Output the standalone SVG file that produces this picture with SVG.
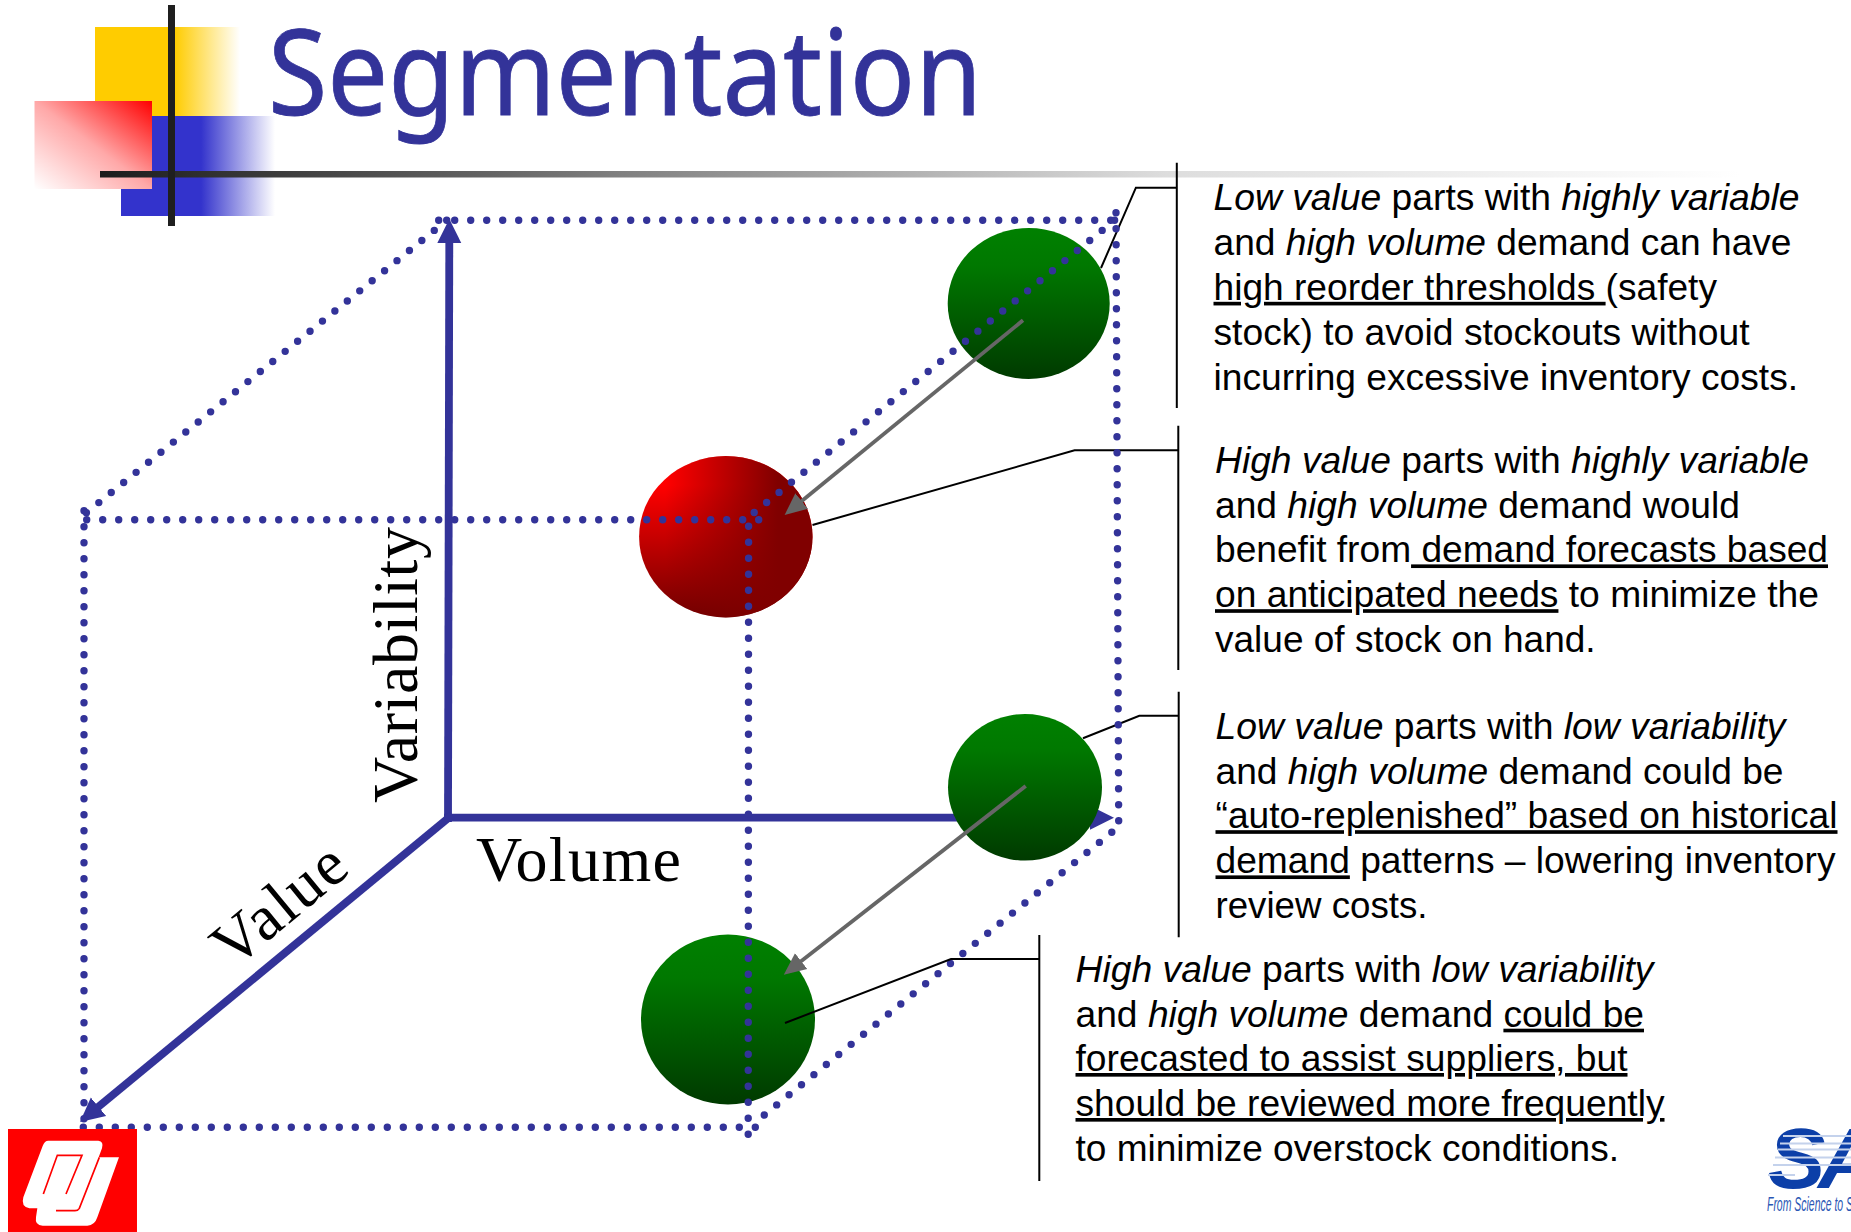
<svg xmlns="http://www.w3.org/2000/svg" width="1851" height="1232" viewBox="0 0 1851 1232">
<style>
.body{font-family:"Liberation Sans",Arial,sans-serif;font-size:36.5px;fill:#000}
.body tspan.i{font-style:italic}
.body tspan.u{text-decoration:underline;text-decoration-thickness:3px;text-underline-offset:4.5px;text-decoration-skip-ink:none}
.axis-label{font-family:"Liberation Serif","Times New Roman",serif;font-size:64px;fill:#000}
.dot{fill:none;stroke:#333399;stroke-width:7.4;stroke-linecap:round;stroke-dasharray:0 16}
.axis{fill:none;stroke:#333399;stroke-width:7.8;marker-end:url(#axisHead)}
.grey{fill:none;stroke:#666;stroke-width:3.8;marker-end:url(#greyHead)}
.lead{fill:none;stroke:#000;stroke-width:2}
</style>
<defs>
<marker id="axisHead" markerUnits="userSpaceOnUse" markerWidth="26" markerHeight="26" refX="4" refY="13" orient="auto"><path d="M0,1 L24,13 L0,25 Z" fill="#333399"/></marker>
<marker id="greyHead" markerUnits="userSpaceOnUse" markerWidth="24" markerHeight="22" refX="5" refY="11" orient="auto"><path d="M0,1 L22,11 L0,21 Z" fill="#666"/></marker>
<linearGradient id="ylw" gradientUnits="userSpaceOnUse" x1="95" y1="0" x2="240" y2="0"><stop offset="0" stop-color="#fc0"/><stop offset=".55" stop-color="#fc0"/><stop offset="1" stop-color="#fff"/></linearGradient>
<linearGradient id="blu" gradientUnits="userSpaceOnUse" x1="121" y1="0" x2="275" y2="0"><stop offset="0" stop-color="#33c"/><stop offset=".52" stop-color="#33c"/><stop offset="1" stop-color="#fff"/></linearGradient>
<linearGradient id="rd" x1="1" y1="0" x2="0" y2="1"><stop offset="0" stop-color="#f00"/><stop offset=".5" stop-color="#ffa8a8"/><stop offset="1" stop-color="#fff"/></linearGradient>
<linearGradient id="rule" gradientUnits="userSpaceOnUse" x1="100" y1="0" x2="1740" y2="0"><stop offset="0" stop-color="#1c1c1c"/><stop offset=".244" stop-color="#666"/><stop offset=".317" stop-color="#808080"/><stop offset=".65" stop-color="#ddd"/><stop offset="1" stop-color="#fff"/></linearGradient>
<linearGradient id="grn" x1="0" y1="0" x2="0" y2="1"><stop offset="0" stop-color="#008000"/><stop offset=".25" stop-color="#007800"/><stop offset="1" stop-color="#003a00"/></linearGradient>
<linearGradient id="redV" x1="0" y1="0" x2="0" y2="1"><stop offset="0" stop-color="#f00"/><stop offset=".18" stop-color="#f00"/><stop offset="1" stop-color="#700000"/></linearGradient>
<linearGradient id="redH" x1="0" y1="0" x2="1" y2="0"><stop offset=".15" stop-color="#800000" stop-opacity="0"/><stop offset=".8" stop-color="#800000"/></linearGradient>
</defs>
<rect width="1851" height="1232" fill="#fff"/>

<g id="title-art">
<rect x="95" y="27" width="145" height="89" fill="url(#ylw)"/>
<rect x="121" y="116" width="154" height="100" fill="url(#blu)"/>
<rect x="34.500" y="101" width="117.500" height="88" fill="url(#rd)"/>
<rect x="100" y="171" width="1640" height="6.500" fill="url(#rule)"/>
<rect x="168" y="5" width="7" height="221" fill="#1f1f1f"/>
</g>
<text id="title" x="268" y="115" font-family="'Noto Sans',sans-serif" font-size="118" fill="#333399" stroke="#333399" stroke-width=".8" textLength="714" lengthAdjust="spacingAndGlyphs">Segmentation</text>

<g id="axes">
<line class="axis" x1="448" y1="822" x2="449.300" y2="239"/>
<line class="axis" x1="444" y1="817.700" x2="1094" y2="817.700"/>
<line class="axis" x1="452" y1="815" x2="95.400" y2="1109.300"/>
</g>
<g id="leaders">
<path class="lead" d="M1176.800,162.700 V408 M1101,268 L1135.900,187.700 H1176.800"/>
<path class="lead" d="M1178.300,425.700 V670 M812.500,525 L1074.600,450.300 H1178.300"/>
<path class="lead" d="M1178.700,691.700 V937.300 M1083,738.300 L1139.300,715.700 H1178.700"/>
</g>

<g id="node-low-high-variability"><ellipse cx="1028.700" cy="303.500" rx="81" ry="75.500" fill="url(#grn)"/></g>
<g id="node-high-high-variability"><ellipse cx="725.800" cy="536.700" rx="86.700" ry="80.700" fill="url(#redV)"/><ellipse cx="725.800" cy="536.700" rx="86.700" ry="80.700" fill="url(#redH)"/></g>
<g id="node-low-low-variability"><ellipse cx="1025" cy="787.300" rx="77" ry="73.300" fill="url(#grn)"/></g>
<g id="node-high-low-variability"><ellipse cx="728" cy="1019.500" rx="87" ry="85" fill="url(#grn)"/></g>

<g id="cube">
<path class="dot" d="M438.700,220.300 H1112"/>
<path class="dot" d="M86.700,519.700 H760"/>
<path class="dot" d="M83.300,1127.300 H756"/>
<path class="dot" d="M84,1118.700 V510"/>
<path class="dot" d="M748.600,526.300 L748.200,1135"/>
<path class="dot" d="M1116,212.700 L1118.700,822"/>
<path class="dot" d="M1114.600,220.300 L754,512.700"/>
<path class="dot" d="M1111.800,832.300 L752,1125"/>
<path class="dot" d="M446.700,220.300 L86,513"/>
</g>

<g id="connectors">
<line class="grey" x1="1023" y1="320.300" x2="797.800" y2="504.200"/>
<line class="grey" x1="1025.700" y1="786" x2="797.200" y2="964.200"/>
<path class="lead" d="M1039.300,935 V1181 M785,1023 L951,959 H1039.300"/>
</g>

<g id="label-variability"><text class="axis-label" transform="translate(417 803) rotate(-90)" textLength="276">Variability</text></g>
<g id="label-volume"><text class="axis-label" x="476" y="881" textLength="205">Volume</text></g>
<g id="label-value"><text class="axis-label" transform="translate(233 970) rotate(-39.500)" textLength="154">Value</text></g>

<g id="text-1">
<text class="body" x="1213.500" y="210.200" textLength="586" lengthAdjust="spacingAndGlyphs"><tspan class="i">Low value</tspan> parts with <tspan class="i">highly variable</tspan></text>
<text class="body" x="1213.500" y="255" textLength="578" lengthAdjust="spacingAndGlyphs">and <tspan class="i">high volume</tspan> demand can have</text>
<text class="body" x="1213.500" y="299.800" textLength="503.500" lengthAdjust="spacingAndGlyphs"><tspan class="u">high reorder thresholds </tspan>(safety</text>
<text class="body" x="1213.500" y="344.700" textLength="536" lengthAdjust="spacingAndGlyphs">stock) to avoid stockouts without</text>
<text class="body" x="1213.500" y="389.500" textLength="584.600" lengthAdjust="spacingAndGlyphs">incurring excessive inventory costs.</text>
</g>
<g id="text-2">
<text class="body" x="1215" y="472.800" textLength="594" lengthAdjust="spacingAndGlyphs"><tspan class="i">High value</tspan> parts with <tspan class="i">highly variable</tspan></text>
<text class="body" x="1215" y="517.600" textLength="525" lengthAdjust="spacingAndGlyphs">and <tspan class="i">high volume</tspan> demand would</text>
<text class="body" x="1215" y="562.400" textLength="613" lengthAdjust="spacingAndGlyphs">benefit from<tspan class="u"> demand forecasts based</tspan></text>
<text class="body" x="1215" y="607.200" textLength="604" lengthAdjust="spacingAndGlyphs"><tspan class="u">on anticipated needs</tspan> to minimize the</text>
<text class="body" x="1215" y="652" textLength="380.600" lengthAdjust="spacingAndGlyphs">value of stock on hand.</text>
</g>
<g id="text-3">
<text class="body" x="1215.500" y="739.200" textLength="570" lengthAdjust="spacingAndGlyphs"><tspan class="i">Low value</tspan> parts with <tspan class="i">low variability</tspan></text>
<text class="body" x="1215.500" y="784" textLength="568" lengthAdjust="spacingAndGlyphs">and <tspan class="i">high volume</tspan> demand could be</text>
<text class="body" x="1215.500" y="828.200" textLength="622" lengthAdjust="spacingAndGlyphs"><tspan class="u">“auto-replenished” based on historical</tspan></text>
<text class="body" x="1215.500" y="873.400" textLength="620" lengthAdjust="spacingAndGlyphs"><tspan class="u">demand</tspan> patterns – lowering inventory</text>
<text class="body" x="1215.500" y="918" textLength="212" lengthAdjust="spacingAndGlyphs">review costs.</text>
</g>
<g id="text-4">
<text class="body" x="1075.500" y="981.700" textLength="578" lengthAdjust="spacingAndGlyphs"><tspan class="i">High value</tspan> parts with <tspan class="i">low variability</tspan></text>
<text class="body" x="1075.500" y="1026.700" textLength="568.500" lengthAdjust="spacingAndGlyphs">and <tspan class="i">high volume</tspan> demand <tspan class="u">could be</tspan></text>
<text class="body" x="1075.500" y="1071" textLength="552" lengthAdjust="spacingAndGlyphs"><tspan class="u">forecasted to assist suppliers, but</tspan></text>
<text class="body" x="1075.500" y="1116" textLength="589" lengthAdjust="spacingAndGlyphs"><tspan class="u">should be reviewed more frequently</tspan></text>
<text class="body" x="1075.500" y="1160.700" textLength="543.500" lengthAdjust="spacingAndGlyphs">to minimize overstock conditions.</text>
</g>

<g id="logo-ou" transform="translate(0 1080) scale(.3333)">
<rect x="24" y="147" width="387" height="309" fill="#f00"/>
<path d="M145,182 H295 Q312,184 306,205 L296,232 H357 L292,412 Q284,437 262,437 H128 Q104,437 108,412 L112,385 H88 Q62,380 70,352 L128,198 Q134,182 145,182 Z" fill="#fff"/>
<path d="M130,342 L172,226 H246 L198,342" fill="none" stroke="#f00" stroke-width="5"/>
<path d="M298,232 L238,385 Q234,392 225,392 H168" fill="none" stroke="#f00" stroke-width="5"/>
</g>
<g id="logo-sas">
<text x="1768" y="1188" font-family="'Liberation Sans',sans-serif" font-weight="700" font-style="italic" font-size="86" letter-spacing="-7" fill="#0c3fa8">SAS</text>
<path d="M1783,1136 H1851 M1780,1143.500 H1851 M1778,1149.500 H1851 M1775,1157.500 H1851 M1773,1165 H1851 M1768,1175 H1795" stroke="#c4d2ec" stroke-width="1.800"/>
<text x="1767" y="1211" font-family="'Liberation Sans',sans-serif" font-style="italic" font-size="20" fill="#2a56b4" textLength="86" lengthAdjust="spacingAndGlyphs">From Science to S</text>
</g>
</svg>
